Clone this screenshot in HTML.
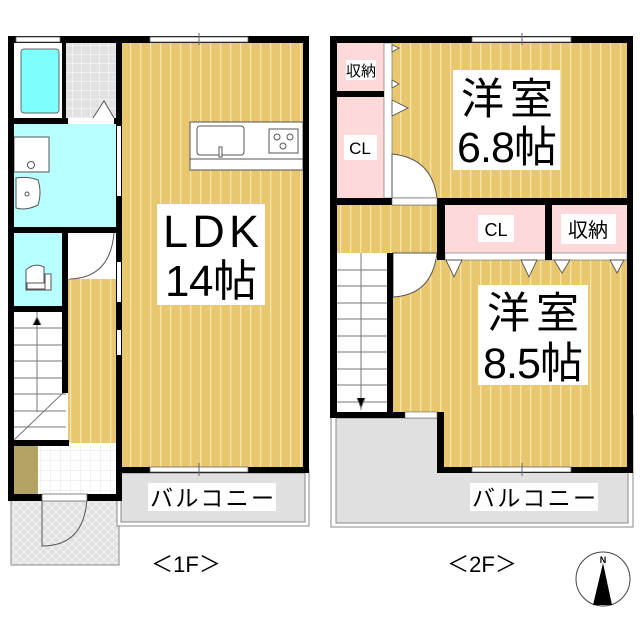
<!DOCTYPE html>
<html><head><meta charset="utf-8"><style>
body{margin:0;background:#fff}
svg{display:block}
text{font-family:"Liberation Sans","Noto Sans CJK JP",sans-serif;fill:#000}
</style></head><body>
<svg width="640" height="640" viewBox="0 0 640 640" xmlns="http://www.w3.org/2000/svg">
<defs>
<pattern id="fl" width="10" height="10" patternUnits="userSpaceOnUse">
<rect width="10" height="10" fill="#e9c76f"/><rect x="0" width="1.3" height="10" fill="#f6e3b0"/>
</pattern>
<pattern id="tile" width="9" height="9" patternUnits="userSpaceOnUse">
<rect width="9" height="9" fill="#e2e2e2"/><path d="M0 0H9M0 0V9" stroke="#fff" stroke-width="1"/>
</pattern>
<pattern id="tile2" width="10" height="10" patternUnits="userSpaceOnUse">
<rect width="10" height="10" fill="#fff"/><path d="M0 0H10M0 0V10" stroke="#e6e6e6" stroke-width="1"/>
</pattern>
<pattern id="cross" width="8" height="8" patternUnits="userSpaceOnUse">
<rect width="8" height="8" fill="#e0e0e0"/><path d="M0 0L8 8M8 0L0 8" stroke="#f4f4f4" stroke-width="1"/>
</pattern>
</defs>

<!-- ===== 1F ===== -->
<rect x="11" y="500" width="108" height="65" fill="url(#cross)" stroke="#888" stroke-width="1"/>
<rect x="117" y="470" width="192" height="56" fill="#fff" stroke="#888"/>
<rect x="121" y="473" width="184" height="49" fill="#e0e0e0" stroke="#888"/>
<rect x="148" y="483" width="128" height="28" fill="#fff"/>
<text x="150" y="506" font-size="23" textLength="124">バルコニー</text>

<rect x="122" y="43" width="181" height="424" fill="url(#fl)"/>
<rect x="68" y="233" width="48" height="210" fill="url(#fl)"/>
<rect x="14" y="43" width="50" height="75" fill="#fff"/>
<rect x="21" y="49" width="38" height="64" rx="3" fill="#80ffff" stroke="#666"/>
<rect x="66" y="43" width="50" height="75" fill="url(#tile)"/>
<path d="M93 118 L104 101 L114 118" fill="#fff" stroke="#555"/>
<rect x="14" y="124" width="102" height="103" fill="#b8ffff"/>
<rect x="14" y="137" width="35" height="35" fill="#fff" stroke="#555"/>
<circle cx="31" cy="165" r="3.5" fill="#fff" stroke="#555"/>
<path d="M16 178 Q28 176 38 180 Q42 192 38 205 Q26 211 16 208 Z" fill="#fff" stroke="#555"/>
<circle cx="27" cy="194" r="2" fill="none" stroke="#555"/>
<rect x="14" y="233" width="48" height="74" fill="#b8ffff"/>
<path d="M26 270 Q34 262 44 267 L44 290 L26 290 Z" fill="#fff" stroke="#555"/>
<rect x="27" y="283" width="20" height="6" fill="#fff" stroke="#555"/>
<rect x="45" y="274" width="6" height="16" fill="#fff" stroke="#555"/>
<rect x="68" y="233" width="48" height="46" fill="#fff"/>
<path d="M68 233 L68 279 Q110 279 114 233" fill="#fff" stroke="#555"/>
<rect x="14" y="312" width="48" height="128" fill="#fff"/>
<g stroke="#777" stroke-width="1">
<path d="M14 328H62M14 345H62M14 361H62M14 378H62M14 394H66M14 411H66M14 427H66"/>
<path d="M37 312V412M14 440L64 392"/>
<path d="M33 325L37 317L41 325"/>
</g>
<rect x="14" y="446" width="24" height="48" fill="#b3a263"/>
<rect x="38" y="446" width="78" height="48" fill="url(#tile2)"/>
<path d="M42 497 L42 546 Q85 546 87 497" fill="none" stroke="#555"/>

<rect x="190" y="122" width="113" height="48" fill="#fff" stroke="#555"/>
<line x1="190" y1="159" x2="303" y2="159" stroke="#555"/>
<rect x="197" y="126" width="47" height="29" rx="3" fill="#fff" stroke="#555"/>
<rect x="219" y="147" width="3" height="10" fill="#fff" stroke="#555"/>
<rect x="269" y="129" width="29" height="24" fill="#fff" stroke="#555"/>
<circle cx="277" cy="137" r="3" fill="none" stroke="#555"/><circle cx="290" cy="137" r="3" fill="none" stroke="#555"/><circle cx="283" cy="146" r="3" fill="none" stroke="#555"/>
<rect x="157" y="204" width="108" height="101" fill="#fff"/>
<text x="211" y="247" font-size="45" text-anchor="middle" textLength="96">LDK</text>
<text x="211" y="296" font-size="44" text-anchor="middle" textLength="92">14帖</text>

<g fill="#000">
<rect x="8" y="36" width="301" height="7"/>
<rect x="8" y="36" width="6" height="465"/>
<rect x="303" y="36" width="6" height="437"/>
<rect x="116" y="36" width="6" height="465"/>
<rect x="116" y="467" width="193" height="6"/>
<rect x="14" y="118" width="102" height="6"/>
<rect x="62" y="43" width="4" height="75"/>
<rect x="14" y="227" width="102" height="6"/>
<rect x="62" y="233" width="6" height="160"/>
<rect x="14" y="306" width="48" height="6"/>
<rect x="14" y="440" width="55" height="6"/>
<rect x="8" y="494" width="114" height="7"/>
</g>
<rect x="16" y="37" width="44" height="5" fill="#fff" stroke="#666" stroke-width="0.8"/>
<rect x="150" y="37" width="98" height="5" fill="#fff" stroke="#666" stroke-width="0.8"/><line x1="199" y1="33" x2="199" y2="45" stroke="#666"/>
<rect x="150" y="467" width="98" height="5" fill="#fff" stroke="#666" stroke-width="0.8"/><line x1="199" y1="463" x2="199" y2="476" stroke="#666"/>
<rect x="68" y="118" width="46" height="6" fill="#fff"/>
<rect x="117" y="126" width="4" height="70" fill="#fff"/>
<rect x="117" y="262" width="4" height="40" fill="#fff"/>
<rect x="117" y="330" width="4" height="25" fill="#fff"/>
<rect x="68" y="233" width="2" height="46" fill="#fff"/>
<rect x="42" y="494" width="45" height="7" fill="#fff" stroke="#666" stroke-width="0.8"/>

<text x="186" y="572" font-size="22" text-anchor="middle">＜1F＞</text>

<!-- ===== 2F ===== -->
<rect x="331" y="415" width="302" height="112" fill="#fff" stroke="#888"/>
<rect x="336" y="418" width="292" height="105" fill="#e0e0e0" stroke="#888"/>
<rect x="470" y="483" width="128" height="28" fill="#fff"/>
<text x="472" y="506" font-size="23" textLength="124">バルコニー</text>

<rect x="392" y="43" width="235" height="155" fill="url(#fl)"/>
<rect x="337" y="205" width="100" height="48" fill="url(#fl)"/>
<rect x="393" y="260" width="234" height="152" fill="url(#fl)"/>
<rect x="444" y="405" width="183" height="62" fill="url(#fl)"/>
<rect x="337" y="43" width="47" height="48" fill="#fdd9d9"/>
<rect x="337" y="97" width="47" height="101" fill="#fdd9d9"/>
<rect x="384" y="43" width="8" height="155" fill="#fff" stroke="#666" stroke-width="0.6"/>
<rect x="445" y="205" width="100" height="48" fill="#fdd9d9"/>
<rect x="552" y="205" width="75" height="48" fill="#fdd9d9"/>
<rect x="445" y="253" width="182" height="7" fill="#fff" stroke="#666" stroke-width="0.6"/>
<g fill="#fff" stroke="#555" stroke-width="0.9">
<path d="M392 45L399 48L392 52Z"/><path d="M392 80L399 84L392 88Z"/>
<path d="M392 100L408 108L392 116Z"/><path d="M392 175L408 183L392 191Z"/>
<path d="M446 260L454 277L462 260Z"/><path d="M521 260L529 277L537 260Z"/>
<path d="M554 260L562 273L570 260Z"/><path d="M610 260L617 273L624 260Z"/>
</g>
<path d="M392 154 Q432 158 437 198 L392 198 Z" fill="#fff" stroke="#555"/>
<rect x="392" y="198" width="45" height="7" fill="#fff" stroke="#666" stroke-width="0.6"/>
<path d="M393 253 L437 253 Q432 295 393 297 Z" fill="#fff" stroke="#555"/>
<rect x="337" y="253" width="50" height="162" fill="#fff"/>
<g stroke="#777" stroke-width="1">
<path d="M337 270H387M337 286H387M337 303H387M337 319H387M337 336H387M337 352H387M337 369H387M337 385H387M337 402H387"/>
<path d="M361 253V410"/><path d="M357 398L361 408L365 398"/>
</g>
<rect x="346" y="60" width="30" height="20" fill="#fff"/>
<text x="361" y="76" font-size="15" text-anchor="middle">収納</text>
<rect x="344" y="135" width="33" height="25" fill="#fff"/>
<text x="360" y="154" font-size="17" text-anchor="middle">CL</text>
<rect x="478" y="215" width="36" height="27" fill="#fff"/>
<text x="496" y="236" font-size="18" text-anchor="middle">CL</text>
<rect x="561" y="214" width="55" height="30" fill="#fff"/>
<text x="588" y="237" font-size="20" text-anchor="middle">収納</text>
<rect x="453" y="70" width="107" height="100" fill="#fff"/>
<text x="507" y="114" font-size="43" text-anchor="middle" textLength="92">洋室</text>
<text x="507" y="162" font-size="43" text-anchor="middle" textLength="100">6.8帖</text>
<rect x="478" y="285" width="110" height="100" fill="#fff"/>
<text x="533" y="328" font-size="43" text-anchor="middle" textLength="92">洋室</text>
<text x="533" y="378" font-size="43" text-anchor="middle" textLength="100">8.5帖</text>

<g fill="#000">
<rect x="330" y="36" width="303" height="7"/>
<rect x="330" y="36" width="7" height="382"/>
<rect x="627" y="36" width="6" height="437"/>
<rect x="337" y="91" width="47" height="6"/>
<rect x="337" y="198" width="290" height="7"/>
<rect x="437" y="198" width="8" height="62"/>
<rect x="545" y="205" width="7" height="55"/>
<rect x="387" y="253" width="6" height="165"/>
<rect x="330" y="412" width="114" height="6"/>
<rect x="437" y="412" width="7" height="61"/>
<rect x="437" y="467" width="196" height="6"/>
</g>
<rect x="392" y="198" width="45" height="7" fill="#fff" stroke="#666" stroke-width="0.6"/>
<rect x="405" y="412" width="32" height="6" fill="#fff" stroke="#666" stroke-width="0.6"/>
<rect x="472" y="37" width="99" height="5" fill="#fff" stroke="#666" stroke-width="0.8"/><line x1="522" y1="33" x2="522" y2="45" stroke="#666"/>
<rect x="472" y="467" width="99" height="5" fill="#fff" stroke="#666" stroke-width="0.8"/><line x1="522" y1="463" x2="522" y2="476" stroke="#666"/>

<text x="482" y="572" font-size="22" text-anchor="middle">＜2F＞</text>

<circle cx="603" cy="579" r="27" fill="#fff" stroke="#444"/>
<path d="M603 563 L593 605 L612 605 Z" fill="#000"/>
<text x="603" y="563" font-size="9" font-weight="bold" text-anchor="middle">N</text>
</svg>
</body></html>
